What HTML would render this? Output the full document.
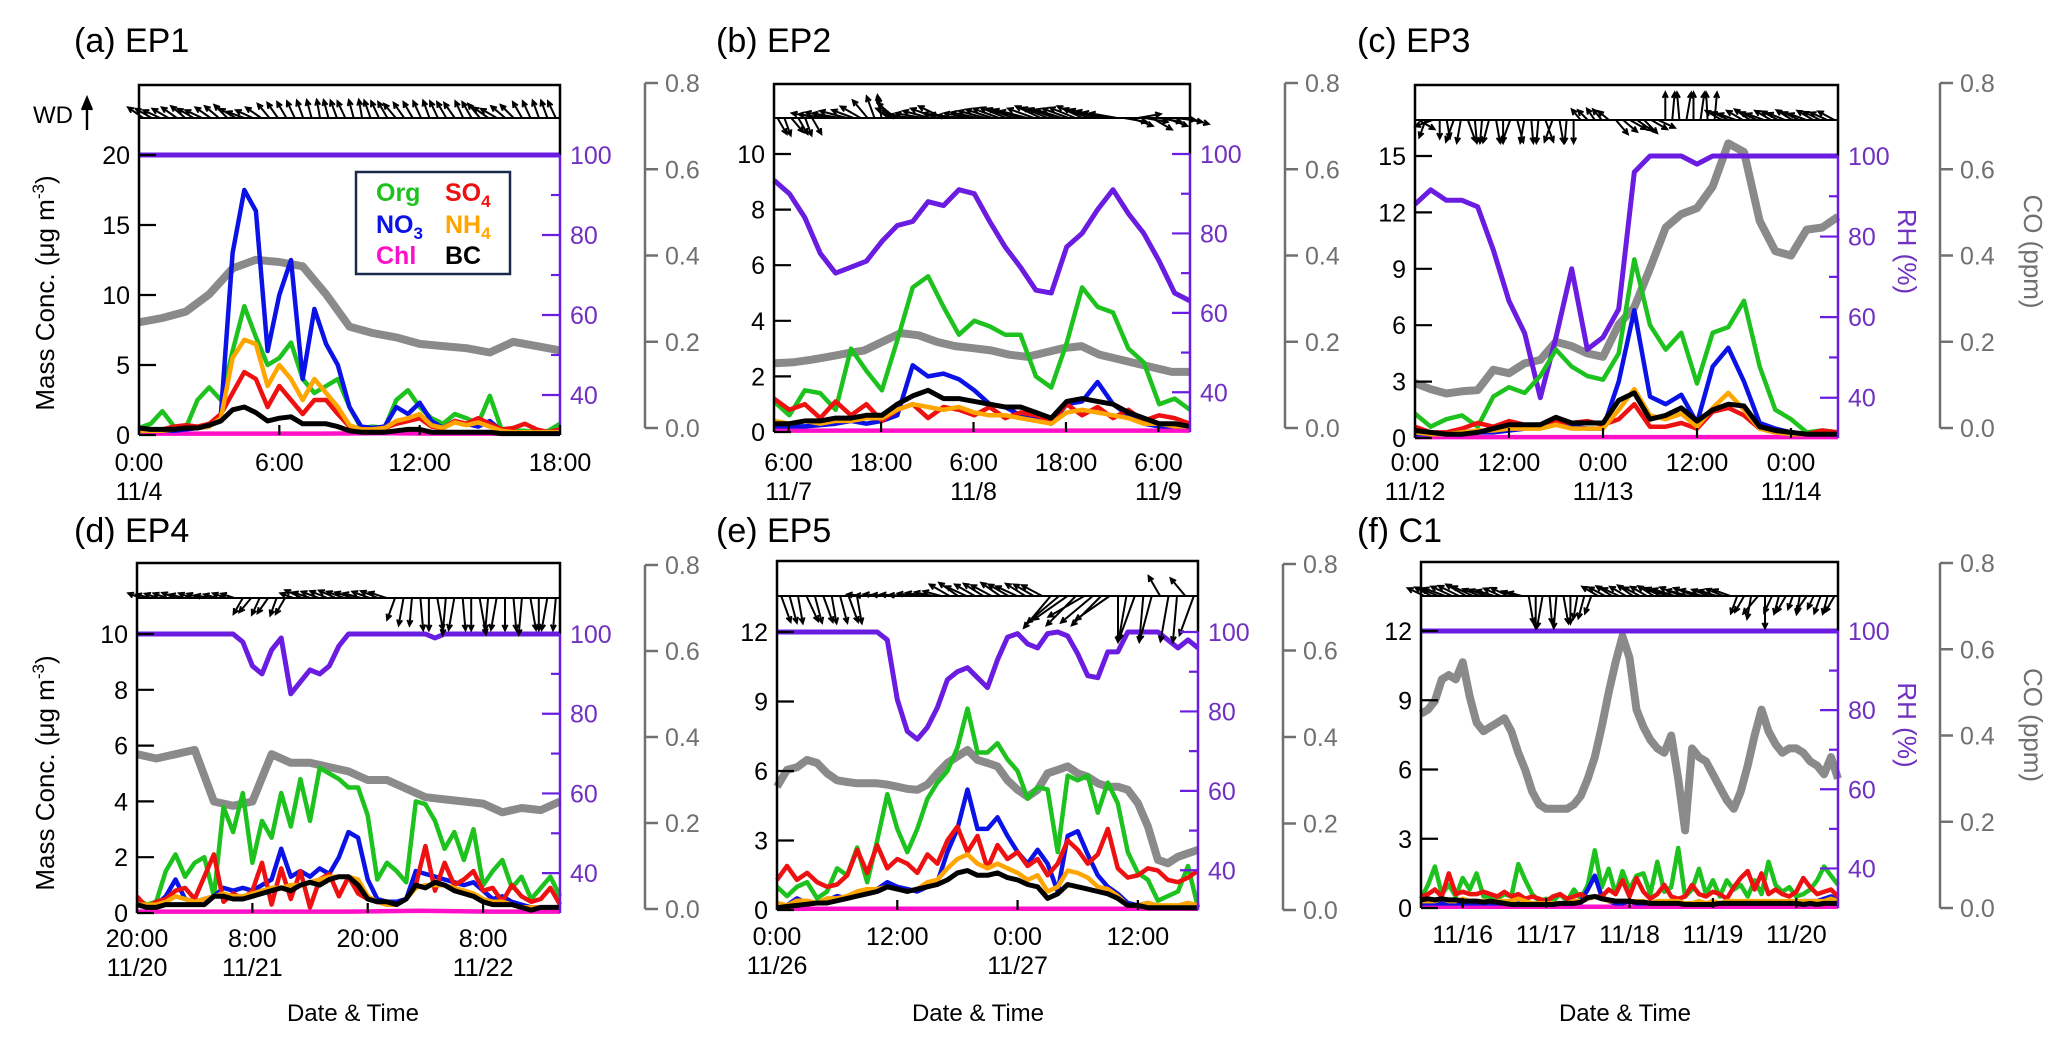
<!DOCTYPE html>
<html><head><meta charset="utf-8">
<style>
html,body{margin:0;padding:0;background:#fff;}
svg{display:block;font-family:"Liberation Sans",Arial,sans-serif;}
</style></head>
<body>
<svg id="fig" width="2067" height="1045" viewBox="0 0 2067 1045" xmlns="http://www.w3.org/2000/svg"></svg>
<script>
// ===== DATA (panel a: EP1, 18 h) =====
const aOrg=[0.5,0.8,1.7,0.6,0.5,2.5,3.4,2.5,6,9.2,7,5,5.5,6.6,4,3,3.5,4,2,0.5,0.6,0.5,2.5,3.2,2,1.2,0.8,1.5,1.2,0.8,2.8,0.4,0.3,0.3,0.2,0.3,0.8];
const aNO3=[0.3,0.3,0.3,0.3,0.4,0.5,0.6,1.5,13,17.5,16,6,10,12.5,4,9,6.5,5,2,0.6,0.5,0.6,2,1.5,2.3,1,0.5,1,0.8,0.6,1,0.3,0.2,0.2,0.2,0.2,0.3];
const aSO4=[0.5,0.4,0.4,0.6,0.7,0.6,0.8,1.5,3,4.5,4,2,3.5,2.5,1.5,2.5,2.5,1.5,0.6,0.4,0.4,0.5,0.8,1,1.2,0.6,0.5,1,0.8,1.2,0.8,0.4,0.5,0.8,0.4,0.2,0.4];
const aNH4=[0.3,0.3,0.3,0.4,0.5,0.5,0.6,1.2,5.5,6.8,6.5,3.5,5,4,2.5,4,3,2,0.7,0.4,0.4,0.5,1,1.2,1.5,0.7,0.5,0.9,0.7,0.9,0.6,0.3,0.2,0.2,0.2,0.2,0.2];
const aChl=[0.1,0.1,0.1,0.1,0.12,0.1,0.1,0.1];
const aBC=[0.5,0.4,0.4,0.4,0.5,0.5,0.7,1,1.8,2,1.6,1,1.2,1.3,0.8,0.8,0.8,0.6,0.3,0.2,0.2,0.2,0.3,0.4,0.4,0.2,0.2,0.2,0.2,0.2,0.2,0.1,0.1,0.1,0.1,0.1,0.1];
const aRH=[100,100,100,100,100,100];
const aCO=[0.245,0.255,0.27,0.31,0.37,0.39,0.385,0.375,0.31,0.235,0.22,0.21,0.195,0.19,0.185,0.175,0.2,0.19,0.18];
const aWDdir=[-55,-60,-65,-60,-55,-50,-60,-65,-55,-50,-45,-60,-70,-65,-55,-40,-35,-30,-25,-20,-15,-10,-15,-20,-25,-15,-10,-20,-25,-30,-40,-35,-30,-25,-20,-25,-30,-35,-25,-30,-40,-55,-60,-50,-45,-30,-25,-20,-20,-25];
const aWDspd=[4,4,4,4,4,4,4,4,4,4,4,4,4,4,4,4,4,4,4,4,4,4,4,4,4,4,4,4,4,4,4,4,4,4,4,4,4,4,4,4,4,4,4,4,4,4,4,4,4,4];
const aMassTicks=[0,5,10,15,20];
const aTimeTicks=[0,6,12,18];
const aTimeLabels=["0:00","6:00","12:00","18:00"];
const aDateLabels=["11/4","","",""];

// ===== panel b: EP2 =====
const bOrg=[1.1,0.6,1.5,1.4,0.8,3.0,2.2,1.5,3.3,5.2,5.6,4.5,3.5,4.0,3.8,3.5,3.5,2.0,1.6,3.2,5.2,4.5,4.3,3.0,2.5,1.0,1.2,0.8];
const bNO3=[0.2,0.2,0.2,0.25,0.3,0.4,0.3,0.4,0.6,2.4,2,2.1,1.9,1.5,1.0,0.9,0.6,0.5,0.3,1.0,1.1,1.8,1.0,0.6,0.3,0.2,0.2,0.2];
const bSO4=[1.2,0.8,1.0,0.5,1.1,0.6,1.0,0.4,0.8,1.0,0.5,0.9,0.8,0.6,0.9,0.5,0.7,0.6,0.4,1.0,0.6,0.9,0.5,0.8,0.4,0.6,0.5,0.3];
const bNH4=[0.4,0.3,0.4,0.3,0.4,0.4,0.5,0.5,0.8,1.0,0.9,0.8,0.9,0.7,0.6,0.6,0.5,0.4,0.3,0.7,0.8,0.7,0.6,0.5,0.3,0.3,0.2,0.2];
const bChl=[0.05,0.05,0.05,0.05,0.05,0.05];
const bBC=[0.3,0.3,0.4,0.4,0.5,0.5,0.6,0.6,1.0,1.3,1.5,1.2,1.2,1.1,1.0,0.9,0.9,0.7,0.5,1.1,1.2,1.1,1.0,0.7,0.5,0.3,0.3,0.2];
const bRH=[93.4,90,84,75,70,71.5,73,78,82,83,88,87,91,90,83,76.6,71.5,65.7,65,76.6,80,86,91,85,80,73,65,63];
const bCO=[0.15,0.152,0.158,0.165,0.173,0.18,0.2,0.22,0.215,0.2,0.19,0.185,0.18,0.17,0.165,0.175,0.185,0.19,0.17,0.16,0.15,0.14,0.13,0.13];
const bWDdir=[150,160,140,150,160,150,-80,-82,-78,-80,-75,-70,-60,-40,-20,-10,-30,-50,-70,-80,-85,-80,-75,-70,-65,-80,-82,-85,-80,-78,-75,-72,-70,-68,-70,-72,-75,-70,-65,-68,-70,-72,-70,-68,-65,-70,-72,-75,-78,-80,100,110,80,100,120,100,110,95,100,105];
const bWDspd=[4,4,4,4,4,4,6,6,6,6,6,5,5,5,5,5,5,5,6,6,6,6,6,6,6,6,6,6,6,6,6,6,6,6,6,6,6,6,6,6,6,6,6,6,6,6,6,6,6,6,5,5,5,5,5,5,5,5,5,5];
const bMassTicks=[0,2,4,6,8,10];
const bTimeTicks=[1.9,13.9,25.9,37.9,49.9];
const bTimeLabels=["6:00","18:00","6:00","18:00","6:00"];
const bDateLabels=["11/7","","11/8","","11/9"];

// ===== panel c: EP3 =====
const cOrg=[1.3,0.6,1.0,1.2,0.6,2.2,2.7,2.4,3.3,4.7,3.8,3.3,3.1,4.5,9.5,6.0,4.7,5.6,2.9,5.6,5.9,7.3,3.8,1.5,1.0,0.3,0.4,0.3];
const cNO3=[0.2,0.2,0.2,0.2,0.3,0.3,0.4,0.5,0.6,0.8,0.6,0.5,0.5,3.0,6.8,2.2,1.8,2.3,0.8,3.8,4.8,3.0,0.8,0.5,0.3,0.2,0.2,0.2];
const cSO4=[0.6,0.3,0.3,0.5,0.8,0.6,0.9,0.7,0.6,0.9,0.8,0.9,0.7,1.0,1.8,0.6,0.6,0.8,0.5,1.4,1.6,1.2,0.5,0.3,0.3,0.2,0.4,0.3];
const cNH4=[0.3,0.2,0.2,0.3,0.4,0.4,0.5,0.5,0.5,0.7,0.5,0.5,0.5,1.5,2.6,1.2,1.0,1.3,0.6,1.6,2.4,1.5,0.5,0.3,0.2,0.2,0.2,0.2];
const cChl=[0.05,0.05,0.05,0.05,0.05,0.05];
const cBC=[0.4,0.3,0.2,0.2,0.3,0.5,0.7,0.7,0.7,1.1,0.8,0.8,0.8,2.0,2.4,1.0,1.2,1.6,0.9,1.5,1.8,1.7,0.6,0.4,0.3,0.2,0.2,0.2];
const cRH=[88,91.6,89,89,87.4,76.7,64,56,40,55,72,52,55,62,96,100,100,100,98,100,100,100,100,100,100,100,100,100];
const cCO=[0.104,0.09,0.08,0.085,0.088,0.135,0.127,0.15,0.158,0.2,0.19,0.173,0.165,0.24,0.28,0.37,0.465,0.496,0.51,0.56,0.66,0.64,0.48,0.41,0.40,0.46,0.465,0.49];
const cWDdir=[120,200,-110,180,170,200,190,160,175,185,195,170,180,200,165,190,175,185,160,200,170,185,180,-40,-45,-35,-40,-50,140,130,120,125,135,120,115,0,5,-5,10,0,8,-3,5,-60,-65,-70,-60,-55,-65,-70,-60,-62,-68,-58,-65,-70,-60,-64,-66,-62];
const cWDspd=[4,4,4,4,4,5,5,5,5,5,5,5,5,5,5,5,5,5,5,5,5,5,5,3,3,3,3,3,4,4,4,4,4,4,4,6,6,6,6,6,6,6,6,4,4,4,4,4,4,4,4,4,4,4,4,4,4,4,4,4];
const cMassTicks=[0,3,6,9,12,15];
const cTimeTicks=[0,12,24,36,48];
const cTimeLabels=["0:00","12:00","0:00","12:00","0:00"];
const cDateLabels=["11/12","","11/13","","11/14"];

// ===== panel d: EP4 =====
const dOrg=[0.5,0.3,0.4,1.5,2.1,1.3,1.8,2.0,0.6,3.8,2.9,4.3,1.8,3.3,2.7,4.3,3.1,4.8,3.3,5.2,5.0,4.8,4.5,4.5,3.5,1.2,1.8,1.5,1.1,4.0,3.9,3.3,2.3,2.9,1.9,3.0,1.0,1.5,1.9,0.9,1.3,0.5,0.9,1.3,0.6];
const dNO3=[0.3,0.2,0.3,0.6,1.2,0.5,0.4,0.5,0.6,0.9,0.8,0.9,0.8,1.0,1.2,2.3,1.3,1.5,1.3,1.6,1.4,2.0,2.9,2.7,1.2,0.5,0.4,0.4,0.5,1.5,1.4,1.3,1.2,1.1,1.0,1.1,0.8,0.5,0.6,0.4,0.3,0.2,0.2,0.2,0.2];
const dSO4=[0.6,0.2,0.4,0.5,0.8,0.9,0.5,1.3,2.1,0.4,0.7,0.5,0.8,1.8,0.3,1.6,0.5,1.5,0.2,1.2,1.4,0.6,1.3,0.7,0.5,0.4,0.3,0.3,0.5,1.0,2.4,0.8,1.8,1.0,1.2,1.5,0.8,0.9,0.4,1.0,0.6,0.4,0.5,0.9,0.3];
const dNH4=[0.3,0.3,0.3,0.4,0.6,0.5,0.4,0.5,0.6,0.7,0.6,0.6,0.7,0.8,0.9,0.9,1.0,1.0,1.1,1.2,1.3,1.3,1.3,1.2,0.6,0.4,0.3,0.3,0.5,0.9,1.0,1.0,1.0,0.9,0.8,0.7,0.5,0.4,0.4,0.3,0.2,0.2,0.2,0.2,0.2];
const dChl=[0.05,0.05,0.05,0.05,0.08,0.05,0.05];
const dBC=[0.3,0.2,0.2,0.3,0.3,0.3,0.3,0.3,0.6,0.6,0.5,0.5,0.6,0.7,0.8,0.9,0.8,1.0,1.1,1.0,1.2,1.3,1.3,1.0,0.5,0.4,0.4,0.3,0.5,1.0,0.9,1.1,1.0,0.8,0.7,0.6,0.4,0.3,0.3,0.3,0.2,0.1,0.2,0.2,0.2];
const dRH=[100,100,100,100,100,100,100,100,100,100,100,98,92,90,96,99,85,88,91,90,92,97,100,100,100,100,100,100,100,100,100,99,100,100,100,100,100,100,100,100,100,100,100,100,100];
const dCO=[0.36,0.35,0.36,0.37,0.25,0.24,0.25,0.36,0.34,0.34,0.33,0.32,0.3,0.3,0.28,0.26,0.255,0.25,0.245,0.225,0.235,0.23,0.25];
const dWDdir=[-70,-75,-72,-70,-68,-75,-70,-72,-78,-75,-70,-72,210,220,205,215,200,210,-70,-65,-72,-70,-68,-66,-70,-72,-75,-70,-68,-72,200,190,185,175,180,170,185,190,175,180,170,185,190,180,175,185,170,180,190,185];
const dWDspd=[3,3,3,3,3,3,3,3,3,3,3,3,4,4,4,4,4,4,3,4,4,4,4,4,4,4,4,4,4,4,5,6,6,7,7,7,8,7,7,7,8,7,7,7,7,8,7,7,7,7];
const dMassTicks=[0,2,4,6,8,10];
const dTimeTicks=[0,12,24,36];
const dTimeLabels=["20:00","8:00","20:00","8:00"];
const dDateLabels=["11/20","11/21","","11/22"];

// ===== panel e: EP5 =====
const eOrg=[1.0,0.6,1.0,1.2,0.5,0.8,1.8,1.5,2.7,1.2,3.0,5.0,3.5,2.5,3.5,4.8,5.5,6.0,7.0,8.7,6.8,6.8,7.2,6.5,6.0,4.8,5.3,5.2,2.5,5.8,5.6,5.8,4.2,5.5,4.6,2.5,1.6,1.3,0.4,0.6,0.8,1.9,0.1];
const eNO3=[0.1,0.2,0.5,0.3,0.3,0.4,0.6,0.5,0.7,0.8,0.9,1.2,1.0,0.9,0.8,1.0,1.2,2.5,3.5,5.2,3.5,3.5,4.0,3.2,2.5,2.0,2.6,2.0,0.8,3.2,3.4,2.4,1.5,1.0,0.7,0.3,0.2,0.3,0.1,0.1,0.1,0.2,0.2];
const eSO4=[1.3,1.9,1.3,1.6,1.2,1.0,1.1,1.5,2.6,1.6,2.8,1.8,2.2,2.0,1.6,2.4,2.0,3.0,3.6,2.5,3.2,1.8,2.8,2.2,2.5,1.9,2.2,1.5,2.0,3.0,2.6,2.0,2.4,3.5,1.8,1.4,1.5,1.8,1.7,1.3,1.2,1.4,1.7];
const eNH4=[0.3,0.2,0.4,0.4,0.3,0.5,0.5,0.6,0.8,0.9,0.9,1.0,0.9,0.8,0.9,1.2,1.3,1.8,2.2,2.4,2.0,1.8,2.0,1.8,1.6,1.3,1.5,0.8,1.0,1.7,1.6,1.4,1.0,0.9,0.6,0.2,0.2,0.3,0.2,0.2,0.2,0.3,0.2];
const eChl=[0.05,0.05,0.05,0.05,0.05,0.05];
const eBC=[0.1,0.15,0.2,0.25,0.3,0.3,0.4,0.5,0.6,0.7,0.8,1.0,0.9,0.8,0.9,1.0,1.1,1.3,1.6,1.7,1.5,1.5,1.6,1.4,1.3,1.1,1.0,0.5,0.7,1.1,1.0,0.9,0.8,0.7,0.5,0.2,0.2,0.1,0.1,0.1,0.1,0.1,0.1];
const eRH=[100,100,100,100,100,100,100,100,100,100,100,98,83,75,73,76,81,88,90,91,88.5,86,93,98.7,99.6,97,96,99.6,100,99,94.5,89,88.5,95,95,100,100,100,100,98,96,98,96];
const eCO=[0.285,0.324,0.33,0.347,0.34,0.316,0.3,0.296,0.293,0.293,0.293,0.29,0.285,0.28,0.278,0.29,0.316,0.34,0.355,0.37,0.347,0.34,0.332,0.3,0.278,0.262,0.278,0.316,0.324,0.332,0.316,0.308,0.293,0.285,0.285,0.278,0.247,0.193,0.116,0.108,0.123,0.131,0.139];
const eWDdir=[160,165,170,155,165,160,170,165,160,170,-85,-88,-84,-86,-85,-87,-82,-80,-78,-75,-60,-55,-65,-60,-58,-62,-55,-60,-65,-58,-60,-62,220,230,235,225,240,230,225,235,180,190,200,185,195,-30,190,185,-40,200];
const eWDspd=[6,6,6,6,6,6,6,6,6,6,4,4,4,4,4,4,4,4,4,4,5,5,5,5,5,5,5,5,5,5,5,5,9,9,9,9,9,9,9,9,10,10,10,10,10,5,10,10,5,9];
const eMassTicks=[0,3,6,9,12];
const eTimeTicks=[0,12,24,36];
const eTimeLabels=["0:00","12:00","0:00","12:00"];
const eDateLabels=["11/26","","11/27",""];

// ===== panel f: C1 =====
const fOrg=[0.4,1.0,1.8,0.6,1.0,0.5,1.3,0.8,1.5,0.5,0.5,0.4,0.6,0.5,1.9,1.2,0.6,0.3,0.4,0.3,0.6,0.3,0.8,0.4,1.0,2.5,0.9,1.7,0.6,1.6,0.8,1.4,1.5,0.6,2.0,0.7,0.9,2.6,0.5,0.8,1.7,0.6,1.2,0.5,1.2,0.8,1.0,0.5,1.2,0.6,2.0,1.0,0.7,0.9,0.5,0.6,0.8,1.2,1.8,1.4,1.0];
const fNO3=[0.2,0.2,0.2,0.2,0.2,0.2,0.2,0.2,0.2,0.2,0.2,0.2,0.2,0.2,0.2,0.2,0.2,0.2,0.2,0.2,0.2,0.2,0.2,0.3,0.8,1.4,0.5,0.3,0.2,0.2,0.3,0.2,0.2,0.2,0.2,0.2,0.2,0.2,0.2,0.2,0.2,0.2,0.2,0.2,0.2,0.2,0.2,0.2,0.2,0.2,0.2,0.2,0.2,0.2,0.2,0.3,0.3,0.3,0.4,0.5,0.4];
const fSO4=[0.5,0.6,0.8,0.5,1.5,0.6,0.7,0.6,0.6,0.7,0.6,0.5,0.7,0.5,0.6,0.4,0.5,0.4,0.3,0.5,0.6,0.4,0.5,0.6,0.4,0.5,0.5,0.8,0.6,1.2,0.5,1.3,0.7,0.4,0.6,1.0,0.5,0.4,0.5,1.0,0.6,0.5,0.7,0.6,0.4,0.9,1.3,1.6,0.8,1.5,0.6,0.8,0.6,0.5,0.7,1.3,0.9,0.6,0.7,0.8,0.5];
const fNH4=[0.3,0.3,0.3,0.4,0.3,0.3,0.4,0.3,0.3,0.3,0.3,0.3,0.3,0.3,0.4,0.3,0.2,0.2,0.2,0.2,0.2,0.2,0.3,0.3,0.4,0.5,0.4,0.3,0.3,0.3,0.3,0.3,0.3,0.2,0.3,0.3,0.3,0.3,0.2,0.2,0.3,0.2,0.3,0.2,0.3,0.3,0.3,0.3,0.3,0.3,0.3,0.3,0.3,0.3,0.3,0.3,0.3,0.3,0.3,0.4,0.3];
const fChl=[0.05,0.05,0.05,0.05,0.05,0.05,0.05];
const fBC=[0.35,0.4,0.35,0.4,0.35,0.35,0.3,0.3,0.3,0.25,0.3,0.25,0.2,0.15,0.15,0.15,0.15,0.15,0.15,0.15,0.2,0.2,0.2,0.25,0.45,0.5,0.4,0.35,0.3,0.3,0.3,0.25,0.25,0.2,0.2,0.2,0.2,0.2,0.15,0.15,0.15,0.15,0.15,0.2,0.2,0.2,0.2,0.2,0.2,0.2,0.2,0.2,0.2,0.2,0.2,0.15,0.2,0.15,0.2,0.2,0.2];
const fRH=[100,100,100,100,100,100];
const fCO=[0.45,0.46,0.48,0.53,0.54,0.53,0.57,0.49,0.43,0.41,0.42,0.43,0.44,0.41,0.36,0.32,0.27,0.24,0.23,0.23,0.23,0.23,0.24,0.26,0.3,0.35,0.42,0.5,0.57,0.63,0.58,0.46,0.42,0.39,0.37,0.36,0.4,0.3,0.18,0.37,0.35,0.34,0.31,0.28,0.25,0.23,0.27,0.33,0.4,0.46,0.41,0.38,0.36,0.37,0.37,0.36,0.34,0.33,0.31,0.35,0.3];
const fWDdir=[-65,-62,-68,-70,-66,-64,-60,-65,-68,-70,-72,-66,-64,-70,-75,170,180,190,175,185,170,180,190,195,200,-60,-62,-58,-65,-60,-55,-62,-60,-58,-64,-70,-72,-68,-75,-70,-74,-70,-72,-68,-70,200,210,190,220,180,205,195,210,200,190,215,205,200,195,210];
const fWDspd=[4,4,4,5,5,5,5,5,4,4,4,4,4,3,3,6,7,7,6,7,6,6,5,5,4,4,4,4,4,4,4,4,4,4,4,5,5,5,5,5,5,4,4,4,4,4,4,5,5,7,4,4,4,3,4,4,3,4,4,4];
const fMassTicks=[0,3,6,9,12];
const fTimeTicks=[12,36,60,84,108];
const fTimeLabels=["11/16","11/17","11/18","11/19","11/20"];
const fDateLabels=["","","","",""];

// ===== LAYOUT (geometry only) =====
const panels=[
 {key:'a',title:'(a) EP1',tx:74,ty:52,L:139,R:560,T:85,Y0:435,Ytop:155,mMax:20,span:18,coX:645,co0:428,co8:83,wdY:118,lab1:471,lab2:500,
  d:{org:aOrg,no3:aNO3,so4:aSO4,nh4:aNH4,chl:aChl,bc:aBC,rh:aRH,co:aCO,wdd:aWDdir,wds:aWDspd,mt:aMassTicks,tt:aTimeTicks,tl:aTimeLabels,dl:aDateLabels}},
 {key:'b',title:'(b) EP2',tx:716,ty:52,L:774,R:1190,T:84,Y0:432,Ytop:154,mMax:10,span:54,coX:1285,co0:428,co8:83,wdY:118,lab1:471,lab2:500,
  d:{org:bOrg,no3:bNO3,so4:bSO4,nh4:bNH4,chl:bChl,bc:bBC,rh:bRH,co:bCO,wdd:bWDdir,wds:bWDspd,mt:bMassTicks,tt:bTimeTicks,tl:bTimeLabels,dl:bDateLabels}},
 {key:'c',title:'(c) EP3',tx:1357,ty:52,L:1415,R:1838,T:85,Y0:438,Ytop:156,mMax:15,span:54,coX:1940,co0:428,co8:83,wdY:120,lab1:471,lab2:500,
  d:{org:cOrg,no3:cNO3,so4:cSO4,nh4:cNH4,chl:cChl,bc:cBC,rh:cRH,co:cCO,wdd:cWDdir,wds:cWDspd,mt:cMassTicks,tt:cTimeTicks,tl:cTimeLabels,dl:cDateLabels},side:true},
 {key:'d',title:'(d) EP4',tx:74,ty:542,L:137,R:560,T:563,Y0:913,Ytop:634,mMax:10,span:44,coX:645,co0:909,co8:565,wdY:598,lab1:947,lab2:976,
  d:{org:dOrg,no3:dNO3,so4:dSO4,nh4:dNH4,chl:dChl,bc:dBC,rh:dRH,co:dCO,wdd:dWDdir,wds:dWDspd,mt:dMassTicks,tt:dTimeTicks,tl:dTimeLabels,dl:dDateLabels}},
 {key:'e',title:'(e) EP5',tx:716,ty:542,L:777,R:1198,T:561,Y0:910,Ytop:632,mMax:12,span:42,coX:1283,co0:910,co8:564,wdY:596,lab1:945,lab2:974,
  d:{org:eOrg,no3:eNO3,so4:eSO4,nh4:eNH4,chl:eChl,bc:eBC,rh:eRH,co:eCO,wdd:eWDdir,wds:eWDspd,mt:eMassTicks,tt:eTimeTicks,tl:eTimeLabels,dl:eDateLabels}},
 {key:'f',title:'(f) C1',tx:1357,ty:542,L:1421,R:1838,T:562,Y0:908,Ytop:631,mMax:12,span:120,coX:1940,co0:908,co8:563,wdY:596,lab1:943,lab2:972,
  d:{org:fOrg,no3:fNO3,so4:fSO4,nh4:fNH4,chl:fChl,bc:fBC,rh:fRH,co:fCO,wdd:fWDdir,wds:fWDspd,mt:fMassTicks,tt:fTimeTicks,tl:fTimeLabels,dl:fDateLabels},side:true}
];
const COL={org:'#1ec21e',no3:'#0a12e6',so4:'#ee1111',nh4:'#ffa500',chl:'#ff10c8',bc:'#000000',rh:'#6a1ce0',rhText:'#7030c0',co:'#8a8a8a',coAxis:'#707070'};

const NS='http://www.w3.org/2000/svg';
const svg=document.getElementById('fig');
function mk(tag,attrs,parent){const e=document.createElementNS(NS,tag);for(const k in attrs)e.setAttribute(k,attrs[k]);(parent||svg).appendChild(e);return e;}
function txt(s,attrs,parent){const e=mk('text',attrs,parent);e.textContent=s;return e;}

panels.forEach(p=>{
  const g=mk('g',{});
  
  
  const xs=v=>p.L+v/p.span*(p.R-p.L);
  const xi=(i,n)=>p.L+i/(n-1)*(p.R-p.L);
  const ym=v=>p.Y0-v/p.mMax*(p.Y0-p.Ytop);
  const yr=v=>p.Y0-(v-30)/70*(p.Y0-p.Ytop);
  const yc=v=>p.co0-v/0.8*(p.co0-p.co8);

  const t=txt(p.title,{x:p.tx,y:p.ty,'font-size':34,fill:'#000'},g);
  
  

  const pathOf=(arr,fy)=>arr.map((v,i)=>(i?'L':'M')+xi(i,arr.length).toFixed(1)+' '+fy(v).toFixed(1)).join(' ');
  const co=mk('path',{d:pathOf(p.d.co,yc),fill:'none',stroke:COL.co,'stroke-width':8,'stroke-linejoin':'round'},g);
  
  
  const rh=mk('path',{d:pathOf(p.d.rh,yr),fill:'none',stroke:COL.rh,'stroke-width':5,'stroke-linejoin':'round'},g);
  
  
  ['chl','org','no3','so4','nh4','bc'].forEach(s=>{
    const l=mk('path',{d:pathOf(p.d[s],ym),fill:'none',stroke:COL[s],'stroke-width':s==='bc'?5:4.5,'stroke-linejoin':'round'},g);
    
    
  });

  const wg=mk('g',{stroke:'#000','stroke-width':2,fill:'none'},g);
  
  
  mk('line',{x1:p.L,y1:p.wdY,x2:p.R,y2:p.wdY,'stroke-width':2},wg);
  const n=p.d.wdd.length;
  p.d.wdd.forEach((a,i)=>{
    const x0=p.L+(i+0.5)/n*(p.R-p.L);
    const len=p.d.wds[i]*4.6, r=a*Math.PI/180;
    const x1=x0+len*Math.sin(r), y1=p.wdY-len*Math.cos(r);
    const h=6, r1=r+Math.PI-0.45, r2=r+Math.PI+0.45;
    mk('path',{d:`M${x0.toFixed(1)} ${p.wdY} L${x1.toFixed(1)} ${y1.toFixed(1)} M${(x1+h*Math.sin(r1)).toFixed(1)} ${(y1-h*Math.cos(r1)).toFixed(1)} L${x1.toFixed(1)} ${y1.toFixed(1)} L${(x1+h*Math.sin(r2)).toFixed(1)} ${(y1-h*Math.cos(r2)).toFixed(1)}`},wg);
  });

  const box=mk('path',{d:`M${p.L} ${p.Y0} L${p.L} ${p.T} L${p.R} ${p.T} L${p.R} ${p.Ytop}`,fill:'none',stroke:'#000','stroke-width':2.5},g);
  
  
  p.d.mt.forEach(v=>{
    mk('line',{x1:p.L,x2:p.L+17,y1:ym(v),y2:ym(v),stroke:'#000','stroke-width':2.2},g);
    const tl=txt(String(v),{x:p.L-9,y:ym(v)+9,'font-size':25,'text-anchor':'end',fill:'#000'},g);
    
    
  });
  const ra=mk('line',{x1:p.R,x2:p.R,y1:p.Ytop,y2:p.Y0,stroke:COL.rh,'stroke-width':2.5},g);
  
  
  [40,50,60,70,80,90,100].forEach(v=>{
    const major=v%20===0;
    mk('line',{x1:p.R-(major?18:9),x2:p.R,y1:yr(v),y2:yr(v),stroke:COL.rh,'stroke-width':2.2},g);
    if(major){const tl=txt(String(v),{x:p.R+10,y:yr(v)+9,'font-size':25,fill:COL.rhText},g);
      
      }
  });
  const ca=mk('line',{x1:p.coX,x2:p.coX,y1:p.co8,y2:p.co0,stroke:COL.coAxis,'stroke-width':2.5},g);
  
  
  [0,0.2,0.4,0.6,0.8].forEach(v=>{
    mk('line',{x1:p.coX,x2:p.coX+13,y1:yc(v),y2:yc(v),stroke:COL.coAxis,'stroke-width':2.5},g);
    const tl=txt(v.toFixed(1),{x:p.coX+20,y:yc(v)+9,'font-size':25,fill:COL.coAxis},g);
    
    
  });
  p.d.tt.forEach((h,i)=>{
    mk('line',{x1:xs(h),x2:xs(h),y1:p.Y0,y2:p.Y0-10,stroke:'#000','stroke-width':2.2},g);
    const l1=txt(p.d.tl[i],{x:xs(h),y:p.lab1,'font-size':25,'text-anchor':'middle',fill:'#000'},g);
    
    
    if(p.d.dl[i]){const l2=txt(p.d.dl[i],{x:xs(h),y:p.lab2,'font-size':25,'text-anchor':'middle',fill:'#000'},g);
      
      }
  });
  if(p.side){
    const cy=(p.T+p.Y0)/2-10;
    const r1=txt('RH (%)',{x:0,y:0,'font-size':26,fill:COL.rhText,'text-anchor':'middle',transform:`translate(1898 ${cy}) rotate(90)`},g);
    
    
    const r2=txt('CO (ppm)',{x:0,y:0,'font-size':26,fill:COL.coAxis,'text-anchor':'middle',transform:`translate(2024 ${cy}) rotate(90)`},g);
    
    
  }
});

[[293],[773]].forEach(([cy])=>{
  const t=mk('text',{x:0,y:0,'font-size':26,'text-anchor':'middle',fill:'#000',transform:`translate(54 ${cy}) rotate(-90)`});
  
  
  t.appendChild(document.createTextNode('Mass Conc. (μg m'));
  const s=mk('tspan',{dy:-10,'font-size':17},t);s.textContent='-3';
  const s2=mk('tspan',{dy:10},t);s2.textContent=')';
});
[[353],[978],[1625]].forEach(([cx])=>{
  const t=txt('Date & Time',{x:cx,y:1021,'font-size':24,'text-anchor':'middle',fill:'#000'});
  
  
});
const wdl=txt('WD',{x:33,y:123,'font-size':24,fill:'#000'});


const wda=mk('path',{d:'M87 130 L87 100 M82 110 L87 98 L92 110',stroke:'#000','stroke-width':2.4,fill:'#000'});



const lg=mk('g',{});


mk('rect',{x:356,y:172,width:154,height:102,fill:'#fff',stroke:'#1a2a4a','stroke-width':2.5},lg);
const legendItems=[['Org',COL.org,376,201,''],['SO',COL.so4,445,201,'4'],['NO',COL.no3,376,233,'3'],['NH',COL.nh4,445,233,'4'],['Chl',COL.chl,376,264,''],['BC','#000',445,264,'']];
legendItems.forEach(([s,c,x,y,sub])=>{
  const t=txt(s,{x:x,y:y,'font-size':25,'font-weight':'bold',fill:c},lg);
  
  
  if(sub){const ts=mk('tspan',{dy:6,'font-size':17},t);ts.textContent=sub;}
});
</script>
</body></html>
